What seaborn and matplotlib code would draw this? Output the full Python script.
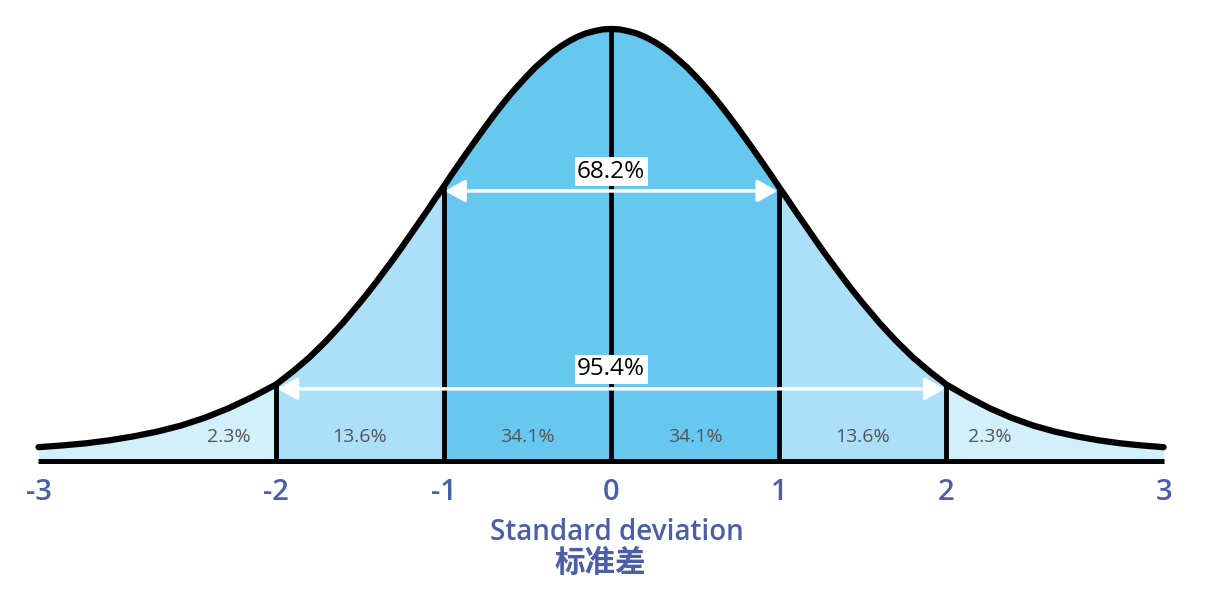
import numpy as np
import pandas as pd
import matplotlib
matplotlib.use("Agg")
import matplotlib.pyplot as plt
import seaborn as sns

# curve height (relative to the peak), right half; left half is its mirror
sd_right = [0.0, 0.05, 0.1, 0.15, 0.2, 0.25, 0.3, 0.35, 0.4, 0.45, 0.5,
            0.55, 0.6, 0.65, 0.7, 0.75, 0.8, 0.85, 0.9, 0.95, 1.0,
            1.05, 1.1, 1.15, 1.2, 1.25, 1.3, 1.35, 1.4, 1.45, 1.5,
            1.6, 1.7, 1.8, 1.9, 2.0,
            2.1, 2.2, 2.3, 2.4, 2.5, 2.6, 2.7, 2.8, 2.9, 3.0]
height_right = [1.000, 0.999, 0.995, 0.990, 0.982, 0.972, 0.960, 0.946, 0.929, 0.912, 0.892,
                0.871, 0.849, 0.825, 0.800, 0.774, 0.747, 0.720, 0.692, 0.664, 0.635,
                0.607, 0.578, 0.550, 0.522, 0.494, 0.467, 0.441, 0.415, 0.390, 0.366,
                0.320, 0.278, 0.240, 0.207, 0.177,
                0.148, 0.122, 0.100, 0.082, 0.068, 0.057, 0.048, 0.041, 0.036, 0.032]

bounds = [-3, -2, -1, 0, 1, 2, 3]
region_labels = ["2.3%", "13.6%", "34.1%", "34.1%", "13.6%", "2.3%"]
region_colors = ["#d2effc", "#acdff8", "#67c8ef", "#67c8ef", "#acdff8", "#d2effc"]
span_sd = [1, 2]
span_labels = ["68.2%", "95.4%"]
tick_sd = [-3, -2, -1, 0, 1, 2, 3]
tick_labels = ["-3", "-2", "-1", "0", "1", "2", "3"]

sd = [-s for s in sd_right[:0:-1]] + sd_right
height = height_right[:0:-1] + height_right
curve = pd.DataFrame({"sd": sd, "height": height})

sns.set_theme(style="white")
plt.rcParams["font.family"] = ["Open Sans", "Noto Sans CJK SC", "DejaVu Sans"]

label_blue = "#4b5fa8"

fig = plt.figure(figsize=(12.16, 6.05), dpi=100)
ax = fig.add_axes([0, 0.238, 1, 0.762])

# the picture squeezes the tails beyond +-2 less than the middle: piecewise linear x scale
sd_knots = [-4, -3, -2, 2, 3, 4]
pos_knots = [-4.82, -3.41, -2.0, 1.98, 3.27, 4.56]
ax.set_xscale("function", functions=(lambda x: np.interp(x, sd_knots, pos_knots),
                                     lambda u: np.interp(u, pos_knots, sd_knots)))

for i, (lo, hi) in enumerate(zip(bounds[:-1], bounds[1:])):
    seg = curve[(curve.sd >= lo - 1e-9) & (curve.sd <= hi + 1e-9)]
    ax.fill_between(seg.sd, 0, seg.height, color=region_colors[i], lw=0, zorder=1)

inner = curve[curve.sd.round(3).isin(bounds[1:-1])]
ax.vlines(inner.sd, 0, inner.height, color="black", lw=3.5, zorder=2)
ax.plot([bounds[0], bounds[-1]], [0, 0], color="black", lw=3.6, clip_on=False,
        solid_capstyle="butt", zorder=3)
sns.lineplot(data=curve, x="sd", y="height", color="black", lw=4.5, sort=False,
             solid_capstyle="round", solid_joinstyle="round", ax=ax, zorder=4)

for s, lab in zip(span_sd, span_labels):
    y = curve.loc[curve.sd.round(3) == s, "height"].iloc[0] - 0.01
    ax.annotate("", xy=(s, y), xytext=(-s, y),
                arrowprops=dict(arrowstyle="<|-|>,head_length=0.8,head_width=0.45",
                                color="white", lw=2.5, shrinkA=1, shrinkB=1,
                                mutation_scale=15), zorder=5)
    ax.text(0, y + 0.045, lab, ha="center", va="center", fontsize=17.5, color="black",
            bbox=dict(boxstyle="square,pad=0.1", fc="white", ec="none"), zorder=6)

for i, lab in enumerate(region_labels):
    lo, hi = bounds[i], bounds[i + 1]
    if i == 0:
        x = hi - 0.2
    elif i == len(region_labels) - 1:
        x = lo + 0.2
    else:
        x = (lo + hi) / 2
    ax.text(x, 0.056, lab, ha="center", va="center", fontsize=14, color="#555555", zorder=6)

ax.set_xlim(-3.162, 3.241)
ax.set_ylim(0, 1.067)
ax.set_xticks(tick_sd, tick_labels)
ax.set_yticks([])
ax.set_xlabel("")
ax.set_ylabel("")
ax.tick_params(axis="x", length=0, pad=12, labelsize=21, labelcolor=label_blue)
for t in ax.get_xticklabels():
    t.set_fontweight("semibold")
for sp in ax.spines.values():
    sp.set_visible(False)

fig.text(617 / 1216, 1 - 532 / 605, "Standard deviation", ha="center", va="center",
         fontsize=20, color=label_blue, fontweight="semibold")
fig.text(600 / 1216, 1 - 563 / 605, "标准差", ha="center", va="center", fontsize=22,
         color=label_blue, fontweight="bold", family=["Noto Sans CJK SC", "DejaVu Sans"])

fig.savefig("out.png", dpi=100, facecolor="white")
